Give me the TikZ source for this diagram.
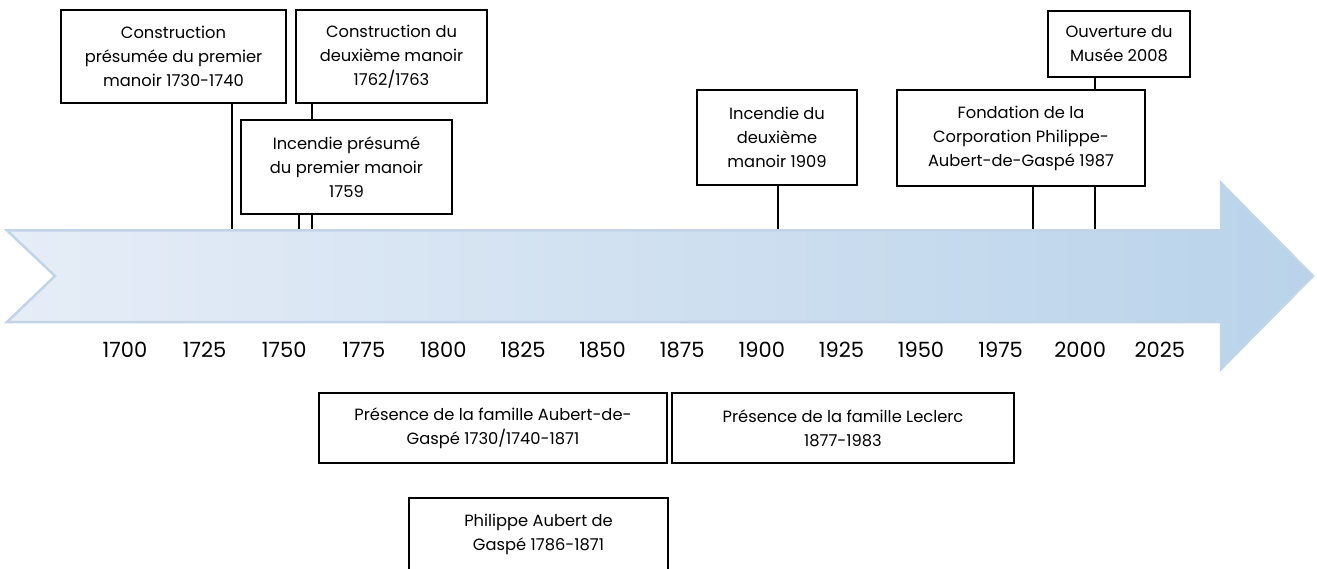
\documentclass[tikz,border=0pt]{standalone}
\usepackage{fontspec}
\setmainfont{Poppins}[Numbers=Monospaced]
\newcommand{\boxfont}{\fontsize{16.3}{24}\selectfont}
\newcommand{\yearfont}{\fontsize{21}{24}\selectfont}
\definecolor{arrowline}{HTML}{C2D5E8}
\definecolor{arrowleft}{HTML}{E6EDF7}
\definecolor{arrowright}{HTML}{B9D3EA}
\begin{document}
\begin{tikzpicture}[x=1pt,y=-1pt,
  box/.style={draw=black,line width=1.1pt,inner sep=0pt,align=center,font=\boxfont},
  yearlbl/.style={font=\yearfont,inner sep=0pt},
  tick/.style={line width=1.4pt,draw=black}]
\useasboundingbox (0,0) rectangle (1317,569);

% event boxes
\node[box,minimum width=225pt,minimum height=93pt] (B1) at (173.5,56.5)
  {Construction\\présumée du premier\\manoir 1730-1740};
\node[box,minimum width=191pt,minimum height=93pt] (B2) at (391.5,56.5)
  {Construction du\\deuxième manoir\\1762/1763};
\node[box,minimum width=211pt,minimum height=94pt] (B3) at (346.5,167)
  {Incendie présumé\\du premier manoir\\1759};
\node[box,minimum width=160pt,minimum height=95pt] (B4) at (777,137.5)
  {Incendie du\\deuxième\\manoir 1909};
\node[box,minimum width=248pt,minimum height=96pt] (B5) at (1021,138)
  {Fondation de la\\Corporation Philippe-\\Aubert-de-Gaspé 1987};
\node[box,minimum width=142pt,minimum height=66pt] (B6) at (1119,44)
  {Ouverture du\\Musée 2008};

% period boxes
\node[box,minimum width=348pt,minimum height=70pt] (P1) at (493,428)
  {Présence de la famille Aubert-de-\\Gaspé 1730/1740-1871};
\node[box,minimum width=342pt,minimum height=70pt] (P2) at (843,428)
  {Présence de la famille Leclerc\\1877-1983};
\node[box,minimum width=259pt,minimum height=72pt] (P3) at (538.5,534)
  {Philippe Aubert de\\Gaspé 1786-1871};

% anchor points on the arrow's upper edge
\coordinate (e1735) at (232,231);
\coordinate (e1759) at (299,231);
\coordinate (e1762) at (312,231);
\coordinate (e1909) at (778,231);
\coordinate (e1987) at (1033,231);
\coordinate (e2008) at (1095,231);

\draw[tick] (B1.south -| e1735) -- (e1735);
\draw[tick] (B2.south -| e1762) -- (B3.north -| e1762);
\draw[tick] (B3.south -| e1762) -- (e1762);
\draw[tick] (B3.south -| e1759) -- (e1759);
\draw[tick] (B4.south -| e1909) -- (e1909);
\draw[tick] (B5.south -| e1987) -- (e1987);
\draw[tick] (B6.south -| e2008) -- (B5.north -| e2008);
\draw[tick] (B5.south -| e2008) -- (e2008);

% timeline arrow
\path[draw=arrowline,line width=2.5pt,line join=miter,left color=arrowleft,right color=arrowright]
  (7,230.5) -- (1221,230.5) -- (1221,183) -- (1313,276) -- (1221,369)
  -- (1221,322) -- (7,322) -- (55,276) -- cycle;

% year labels
\foreach \i in {0,...,13} {
  \pgfmathtruncatemacro{\yr}{1700+25*\i}
  \node[yearlbl] (y\yr) at (125+79.6*\i,350) {\yr};
}
\end{tikzpicture}
\end{document}
